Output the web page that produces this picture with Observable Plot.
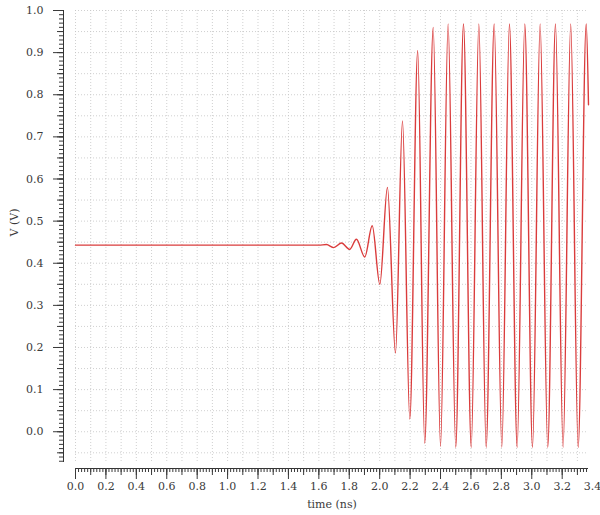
<!DOCTYPE html>
<html><head><meta charset="utf-8">
<script src="https://cdn.jsdelivr.net/npm/d3@7"></script>
<script src="https://cdn.jsdelivr.net/npm/@observablehq/plot@0.6"></script>
<style>body{margin:0;background:#fff}</style>
</head><body><div id="chart"></div><script>
// Waveform extrema (time in ns, voltage in V)
const times = [0, 1.60, 1.65, 1.698, 1.749, 1.803, 1.847, 1.902, 1.951, 2.001, 2.051,
  2.104, 2.150, 2.198, 2.250, 2.296, 2.352, 2.400, 2.450, 2.500, 2.551, 2.602, 2.652,
  2.700, 2.753, 2.803, 2.853, 2.904, 2.954, 3.005, 3.055, 3.105, 3.156, 3.206, 3.256,
  3.305, 3.358, 3.373];
const volts = [0.443, 0.443, 0.4445, 0.437, 0.448, 0.433, 0.457, 0.415, 0.489, 0.350, 0.580,
  0.187, 0.738, 0.030, 0.905, -0.027, 0.960, -0.035, 0.968, -0.037, 0.968, -0.037, 0.968,
  -0.037, 0.968, -0.037, 0.968, -0.037, 0.968, -0.037, 0.968, -0.037, 0.968, -0.037, 0.968,
  -0.037, 0.968, 0.776];
const xLabels = [0.0, 0.2, 0.4, 0.6, 0.8, 1.0, 1.2, 1.4, 1.6, 1.8, 2.0, 2.2, 2.4, 2.6, 2.8, 3.0, 3.2, 3.4];
const yLabels = [0.0, 0.1, 0.2, 0.3, 0.4, 0.5, 0.6, 0.7, 0.8, 0.9, 1.0];
const xDomain = [0, 3.373];
const yDomain = [-0.073, 1.0];

const data = times.map((t, i) => ({t, v: volts[i]}));
const xMajor = xLabels.filter(d => d <= xDomain[1]);
const xMid = d3.range(0, 34).map(i => i / 10);
const xMinor = d3.range(0, 169).map(i => i / 50);
const yMid = d3.range(-1, 21).map(i => i / 20);
const yMinor = d3.range(-7, 101).map(i => i / 100);
const fmt = d3.format(".1f");
const gridStyle = {stroke: "#c4c4c4", strokeOpacity: 0.8, strokeDasharray: "1,2"};

const chart = Plot.plot({
  width: 600, height: 515,
  marginLeft: 75, marginRight: 12, marginTop: 10, marginBottom: 53,
  style: {fontFamily: "DejaVu Serif", fontSize: "11px", color: "#3a3a3a", background: "#fff"},
  x: {domain: xDomain, label: null},
  y: {domain: yDomain, label: null},
  marks: [
    Plot.gridX(xMid, gridStyle),
    Plot.gridY(yMid, gridStyle),
    Plot.ruleX([0], {dx: -12, stroke: "#333"}),
    Plot.ruleY([yDomain[0]], {dy: 6, stroke: "#333"}),
    Plot.axisY({ticks: yMinor, tickSize: 4, tickFormat: () => "", dx: -12, label: null}),
    Plot.axisY({ticks: yMid, tickSize: 6, tickFormat: () => "", dx: -12, label: null}),
    Plot.axisY({ticks: yLabels, tickSize: 10, tickPadding: 10, tickFormat: fmt, dx: -12, label: null}),
    Plot.axisX({ticks: xMinor, tickSize: 4, tickFormat: () => "", dy: 6, label: null}),
    Plot.axisX({ticks: xMid, tickSize: 7, tickFormat: () => "", dy: 6, label: null}),
    Plot.axisX({ticks: xMajor, tickSize: 11, tickFormat: () => "", dy: 6, label: null}),
    Plot.text(xLabels, {x: d => d, text: d => fmt(d), frameAnchor: "bottom", dy: 27}),
    Plot.text(["time (ns)"], {frameAnchor: "bottom", dy: 45}),
    Plot.text(["V (V)"], {frameAnchor: "left", rotate: -90, dx: -61}),
    Plot.line(data, {x: "t", y: "v", curve: "monotone-x", stroke: "#da3c3c", strokeWidth: 1.4})
  ]
});
document.getElementById("chart").appendChild(chart);
</script></body></html>
